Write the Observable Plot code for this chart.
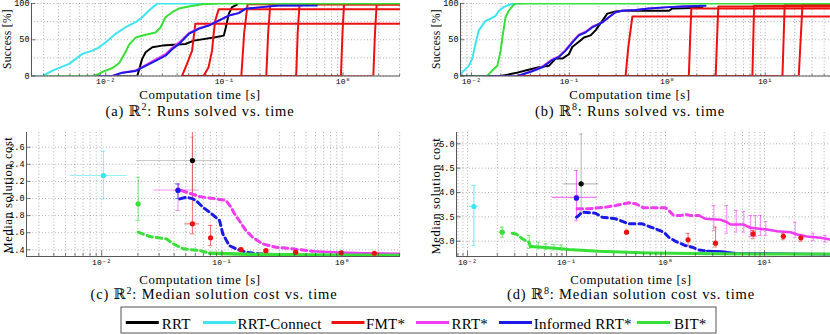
<!DOCTYPE html>
<html><head><meta charset="utf-8">
<script src="https://cdn.jsdelivr.net/npm/d3@7"></script>
<script src="https://cdn.jsdelivr.net/npm/@observablehq/plot@0.6"></script>
<style>
body{margin:0;background:#fff;}
#fig{position:relative;width:830px;height:334px;overflow:hidden;background:#fff;}
.pan{position:absolute;}
#ov text{font-family:'Liberation Serif','Times New Roman','DejaVu Serif',serif;}
</style></head><body><div id="fig"></div>
<script>
// ---------- categories & colours ----------
const ALGS = ["RRT","RRT-Connect","FMT*","RRT*","Informed RRT*","BIT*"];
const COLORS = ["#000000","#3de6ee","#ee1010","#f03cf0","#1a1ae6","#36e036"];
const col = Object.fromEntries(ALGS.map((a,i)=>[a,COLORS[i]]));

// ---------- axes ----------
const xDomainR2 = [0.00237, 3.05];
const xDomainR8 = [0.00774, 46.4];
const successDomain = [0, 100];
const costDomainR2 = [1.322, 2.772];
const costDomainR8 = [2.686, 5.232];
const xTicksR2 = [0.01, 0.1, 1];
const xTickLabelsR2 = ["10⁻²","10⁻¹","10⁰"];
const xTicksR8 = [0.01, 0.1, 1, 10];
const xTickLabelsR8 = ["10⁻²","10⁻¹","10⁰","10¹"];
const successTicks = [0, 50, 100];
const successTickLabels = ["0","50","100"];
const successGrid = [0, 25, 50, 75, 100];
const costTicksR2 = [1.4,1.6,1.8,2.0,2.2,2.4,2.6];
const costTickLabelsR2 = ["1.4","1.6","1.8","2.0","2.2","2.4","2.6"];
const costTicksR8 = [3.0,3.5,4.0,4.5,5.0];
const costTickLabelsR8 = ["3.0","3.5","4.0","4.5","5.0"];

// ---------- (a) R2 success [%] vs time [s] ----------
const a_RRT = [[0.0125,0],[0.01845,0],[0.0203,23.6],[0.0217,32.8],[0.0247,39.6],[0.0299,41.9],[0.047,44.2],[0.0553,48.8],[0.084,53.4],[0.0989,55.7],[0.103,67.3],[0.109,85.7],[0.116,95],[0.128,98.6]];
const a_RRTConnect = [[0.00237,0],[0.00294,0],[0.00356,7.5],[0.00492,16.7],[0.00637,30.5],[0.00773,35],[0.00881,39.6],[0.01,46.5],[0.0121,58],[0.0147,67.3],[0.0179,74.2],[0.0203,81],[0.0232,90.3],[0.0272,100],[0.0866,100]];
const a_FMT = [
  [[0.044,0],[0.0485,17],[0.0535,35],[0.0551,53],[0.0569,72],[3.05,72]],
  [[0.044,0],[0.0668,0],[0.0736,12],[0.0787,35],[0.0813,58],[0.0837,76],[0.0895,92],[3.05,92]],
  [[0.044,0],[0.139,0],[0.147,60],[0.157,99],[3.05,99]],
  [[0.044,0],[0.2255,0],[0.234,60],[0.244,99],[3.05,99]],
  [[0.044,0],[0.403,0],[0.415,60],[0.43,99],[3.05,99]],
  [[0.044,0],[0.96,0],[0.99,60],[1.02,99],[3.05,99]],
  [[0.044,0],[1.8,0],[1.86,60],[1.92,99],[3.05,99]]
];
const a_RRTstar = [[0.0085,0],[0.0114,0],[0.0138,4.6],[0.0179,7.5],[0.0217,15],[0.0263,23],[0.0319,30],[0.0363,39],[0.0414,46],[0.0501,59],[0.0608,66],[0.0738,70],[0.0895,76.5],[0.109,83.4],[0.132,86.7],[0.15,92.7],[0.207,95],[0.286,97.2],[0.45,97.2]];
const a_InformedRRTstar = [[0.0085,0],[0.0114,0],[0.0138,4.6],[0.0179,7],[0.0217,14],[0.0263,21],[0.0319,28],[0.0363,37],[0.0414,44],[0.0501,58],[0.0608,65],[0.0738,69.6],[0.0895,76.5],[0.109,83.4],[0.132,86.7],[0.15,92.7],[0.207,95],[0.286,97.2],[0.6,97.2]];
const a_BIT = [[0.003,0],[0.0078,0],[0.0085,2],[0.0095,6],[0.0114,11],[0.013,18],[0.0147,33],[0.0157,43],[0.0179,53],[0.0217,57],[0.0263,60],[0.029,67],[0.0319,81],[0.0363,88],[0.0414,93],[0.0501,96],[0.0649,99],[0.0895,100],[3.05,100]];

// ---------- (b) R8 success [%] vs time [s] ----------
const b_RRT = [[0.00774,0],[0.0199,0],[0.0282,4],[0.0357,7.5],[0.0489,12],[0.0618,14],[0.0724,24],[0.0848,24],[0.099,30],[0.107,40],[0.13,49],[0.141,53],[0.165,56],[0.185,63],[0.217,76],[0.244,86],[0.296,89],[0.347,90],[1.04,90],[1.12,93],[2.28,94]];
const b_RRTConnect = [[0.00774,4],[0.00806,5],[0.00942,14],[0.0102,24],[0.011,44],[0.0119,63],[0.0139,76],[0.0157,79],[0.0177,83],[0.0191,90],[0.0214,95],[0.0251,99],[0.0282,100],[0.032,100]];
const b_FMT = [
  [[0.03,0],[0.375,0],[0.40,40],[0.44,82],[46.4,82]],
  [[0.03,0],[1.66,0],[1.71,50],[1.76,93],[46.4,93]],
  [[0.03,0],[3.12,0],[3.22,50],[3.32,96],[46.4,96]],
  [[0.03,0],[7.4,0],[7.55,50],[7.7,97],[46.4,97]],
  [[0.03,0],[15,0],[15.4,50],[15.8,97.5],[46.4,97.5]],
  [[0.03,0],[22,0],[23,50],[24,98],[46.4,98]]
];
const b_RRTstar = [[0.00774,0],[0.029,0],[0.033,2],[0.0418,7],[0.053,13],[0.067,23],[0.078,27],[0.0916,36],[0.107,47],[0.125,57],[0.146,61],[0.171,68],[0.217,74],[0.253,81],[0.296,88],[0.347,90],[0.475,91],[0.65,93],[1.04,95],[1.42,96],[2.3,97]];
const b_InformedRRTstar = [[0.00774,0],[0.029,0],[0.033,2],[0.0418,6.5],[0.053,12],[0.067,22],[0.078,26],[0.0916,35],[0.107,46],[0.125,56],[0.146,60],[0.171,67],[0.217,74],[0.253,81],[0.296,88],[0.347,90],[0.475,91],[0.65,93],[1.04,95],[1.42,96],[2.46,97]];
const b_BIT = [[0.00774,0],[0.0145,0],[0.0163,7.5],[0.0184,14],[0.0199,35],[0.021,58],[0.0223,81],[0.0241,90],[0.0265,97],[0.0282,100],[46.4,100]];

// ---------- (c) R2 median cost vs time ----------
const c_RRTstar = [[0.046,2.094],[0.0538,2.062],[0.0652,2.023],[0.0764,2.008],[0.0895,1.996],[0.108,1.977],[0.119,1.898],[0.127,1.821],[0.139,1.743],[0.158,1.626],[0.18,1.547],[0.217,1.47],[0.28,1.43],[0.385,1.412],[0.563,1.384],[0.824,1.372],[1.55,1.36],[3.05,1.353]];
const c_InformedRRTstar = [[0.0446,1.996],[0.0506,2.015],[0.0574,1.996],[0.063,1.957],[0.0694,1.898],[0.0788,1.84],[0.0954,1.743],[0.0985,1.664],[0.1016,1.587],[0.115,1.45],[0.131,1.412],[0.158,1.372],[0.204,1.353],[0.263,1.345],[0.5,1.338],[3.05,1.333]];
const c_BIT = [[0.0201,1.606],[0.0252,1.555],[0.0346,1.528],[0.0393,1.47],[0.0475,1.412],[0.0652,1.392],[0.079,1.36],[0.2,1.345],[1.0,1.338],[3.05,1.333]];
const c_firstSolution = [
  {alg:"RRT-Connect", t:0.01035, v:2.269, tLo:0.0055, tHi:0.0162, vLo:1.996, vHi:2.553},
  {alg:"BIT*", t:0.0201, v:1.938, tLo:0.0192, tHi:0.021, vLo:1.743, vHi:2.249},
  {alg:"RRT", t:0.0568, v:2.444, tLo:0.0195, tHi:0.098, vLo:2.0, vHi:2.717},
  {alg:"RRT*", t:0.0431, v:2.10, tLo:0.0272, tHi:0.0645, vLo:1.86, vHi:2.17},
  {alg:"Informed RRT*", t:0.0431, v:2.095, tLo:0.041, tHi:0.0455, vLo:2.0, vHi:2.17}
];
const c_FMT = [
  {t:0.0568, v:1.704, tLo:0.049, tHi:0.065, vLo:1.587, vHi:2.9},
  {t:0.0804, v:1.540, tLo:0.078, tHi:0.083, vLo:1.45, vHi:1.684},
  {t:0.144, v:1.403, tLo:0.14, tHi:0.148, vLo:1.39, vHi:1.42},
  {t:0.232, v:1.39, tLo:0.228, tHi:0.236, vLo:1.38, vHi:1.40},
  {t:0.41, v:1.372, tLo:0.41, tHi:0.41, vLo:1.365, vHi:1.38},
  {t:0.98, v:1.365, tLo:0.98, tHi:0.98, vLo:1.36, vHi:1.37},
  {t:1.85, v:1.36, tLo:1.85, tHi:1.85, vLo:1.355, vHi:1.365}
];

// ---------- (d) R8 median cost vs time ----------
const d_RRTstar = [[0.128,3.665],[0.168,3.665],[0.25,3.70],[0.313,3.733],[0.426,3.788],[0.5,3.77],[0.6,3.686],[1.0,3.686],[1.08,3.63],[1.21,3.528],[1.45,3.53],[1.59,3.55],[1.79,3.528],[2.18,3.528],[2.53,3.46],[3.6,3.44],[4.2,3.39],[4.54,3.343],[6.17,3.343],[7.24,3.275],[10.6,3.24],[13.4,3.205],[18.3,3.185],[21.4,3.138],[26.9,3.097],[36.8,3.07],[46.4,3.035]];
const d_InformedRRTstar = [[0.126,3.493],[0.133,3.528],[0.144,3.596],[0.196,3.575],[0.229,3.493],[0.313,3.46],[0.426,3.357],[0.58,3.357],[0.71,3.29],[0.825,3.24],[0.96,3.185],[1.08,3.08],[1.26,3.0],[1.59,2.91],[1.86,2.877],[2.17,2.82],[2.64,2.80],[3.7,2.79],[5.1,2.755],[46.4,2.73]];
const d_BIT = [[0.0283,3.164],[0.031,3.15],[0.0357,3.05],[0.0417,2.98],[0.0433,2.89],[0.0568,2.877],[0.0774,2.856],[0.105,2.83],[0.212,2.795],[0.68,2.76],[3.2,2.74],[46.4,2.735]];
const d_firstSolution = [
  {alg:"RRT-Connect", t:0.0116, v:3.713, tLo:0.0105, tHi:0.0128, vLo:2.91, vHi:4.144},
  {alg:"BIT*", t:0.0224, v:3.185, tLo:0.0208, tHi:0.0242, vLo:3.08, vHi:3.29},
  {alg:"RRT", t:0.1406, v:4.178, tLo:0.094, tHi:0.212, vLo:3.6, vHi:5.2},
  {alg:"RRT*", t:0.126, v:3.9, tLo:0.0718, tHi:0.204, vLo:3.42, vHi:4.45},
  {alg:"Informed RRT*", t:0.126, v:3.883, tLo:0.121, tHi:0.131, vLo:3.86, vHi:3.91}
];
const d_FMT = [
  {t:0.404, v:3.185, tLo:0.395, tHi:0.413, vLo:3.17, vHi:3.2},
  {t:1.69, v:3.03, tLo:1.65, tHi:1.73, vLo:2.91, vHi:3.16},
  {t:3.2, v:2.96, tLo:3.13, tHi:3.27, vLo:2.88, vHi:3.29},
  {t:7.67, v:3.15, tLo:7.5, tHi:7.85, vLo:3.05, vHi:3.22},
  {t:15.5, v:3.10, tLo:15.2, tHi:15.8, vLo:3.03, vHi:3.164},
  {t:23.3, v:3.07, tLo:22.8, tHi:23.8, vLo:3.0, vHi:3.14}
];
const d_RRTstarBars = [[3.08,3.22,3.733],[4.15,3.164,3.733],[5.18,3.185,3.63],[6.17,3.185,3.61],[7.24,3.097,3.528],[8.1,3.097,3.528],[9.1,3.117,3.528],[10.3,3.117,3.405],[20.4,3.08,3.39],[31,3.014,3.164],[41,2.98,3.117]];
const d_BITBars = [[0.042,2.85,3.12],[0.052,2.84,2.98],[0.062,2.83,2.95],[0.075,2.82,2.93],[0.088,2.82,2.92]];

// ---------- helpers ----------
const P = arr => arr.map(([t,v]) => ({t, v}));
function logTicks([lo, hi]) {
  const out = [];
  for (let e = Math.floor(Math.log10(lo)); e <= Math.ceil(Math.log10(hi)); e++)
    for (let k = 1; k <= 9; k++) { const v = +(k*Math.pow(10,e)).toPrecision(6); if (v >= lo && v <= hi) out.push(v); }
  return out;
}
const isMajor = v => Math.abs(Math.log10(v) - Math.round(Math.log10(v))) < 1e-9;
const GRID = {stroke:"#8a8a8a", strokeDasharray:"1,2.2", strokeWidth:0.8, strokeOpacity:0.85};
const SERIF = "'Liberation Serif','Times New Roman','DejaVu Serif',serif";
const MONO = "'Liberation Mono','DejaVu Sans Mono',monospace";

function panel({xDomain, yDomain, xTicks, xLabels, yTicks, yLabels, yGrid, width, height, margins, marks}) {
  const xFmt = new Map(xTicks.map((v,i)=>[v, xLabels[i]]));
  const yFmt = new Map(yTicks.map((v,i)=>[v, yLabels[i]]));
  const minor = logTicks(xDomain);
  const yLo = yDomain[0], yH = yDomain[1]-yDomain[0];
  const xr = xDomain[1]/xDomain[0];
  return Plot.plot({
    width, height, ...margins,
    x: {type:"log", domain: xDomain},
    y: {domain: yDomain},
    style: {fontFamily:SERIF, fontSize:"9px", overflow:"visible", background:"transparent"},
    marks: [
      Plot.ruleX(minor, GRID),
      Plot.ruleY(yGrid, GRID),
      ...marks,
      Plot.ruleX([xDomain[0]], {stroke:"#444", strokeWidth:0.9}),
      Plot.ruleY([yDomain[0]], {stroke:"#444", strokeWidth:0.9}),
      Plot.ruleX(minor, {y1: yLo, y2: d => yLo + yH*(isMajor(d) ? 0.045 : 0.025), stroke:"#444", strokeWidth:0.7}),
      Plot.ruleY(yTicks, {x1: xDomain[0], x2: xDomain[0]*Math.pow(xr, 0.012), stroke:"#444", strokeWidth:0.7}),
      Plot.axisX({ticks: xTicks, tickSize:0, tickPadding:2.5, tickFormat: d => xFmt.get(d), fontFamily:MONO, fontSize:8, label:null}),
      Plot.axisY({ticks: yTicks, tickSize:0, tickPadding:2, tickFormat: d => yFmt.get(d), fontFamily:MONO, fontSize:8.5, label:null})
    ]
  });
}
const line = (data, color, o={}) => Plot.line(P(data), {x:"t", y:"v", stroke:color, strokeWidth:2, clip:true, ...o});
const runs = (list, color) => Plot.line(list.flatMap((r,i)=>r.map(([t,v])=>({t,v,run:i}))), {x:"t", y:"v", z:"run", stroke:color, strokeWidth:2, clip:true});
const DASH = {strokeWidth:3, strokeDasharray:"5.5,4"};
function dashSolid(data, cut, color, solidWidth) {
  return [
    line(data.filter(d=>d[0]<=cut), color, DASH),
    line(data.filter(d=>d[0]>=cut), color, {strokeWidth: solidWidth})
  ];
}
function errorBars(data, colorOf, opacity, cap) {
  const c = d => colorOf(d);
  const o = d => d.alg === "RRT" ? opacity*0.7 : opacity;
  return [
    Plot.ruleY(data, {y:"v", x1:"tLo", x2:"tHi", stroke:c, strokeOpacity:o, strokeWidth:1.1, clip:true}),
    Plot.ruleX(data, {x:"t", y1:"vLo", y2:"vHi", stroke:c, strokeOpacity:o, strokeWidth:1.1, clip:true}),
    Plot.ruleY(data, {y:"vHi", x1:d=>d.t/cap, x2:d=>d.t*cap, stroke:c, strokeOpacity:o, strokeWidth:1, clip:true}),
    Plot.ruleY(data, {y:"vLo", x1:d=>d.t/cap, x2:d=>d.t*cap, stroke:c, strokeOpacity:o, strokeWidth:1, clip:true})
  ];
}
const barColor = d => d.alg === "RRT" ? "#777" : col[d.alg];
const dots = (data, colorOf) => Plot.dot(data, {x:"t", y:"v", r:2.6, fill:colorOf, stroke:null, clip:true});

const fig = document.getElementById("fig");
function place(svg, left, top) { svg.classList.add("pan"); svg.style.left = left+"px"; svg.style.top = top+"px"; fig.appendChild(svg); }

// (a)
place(panel({
  xDomain:xDomainR2, yDomain:successDomain, xTicks:xTicksR2, xLabels:xTickLabelsR2,
  yTicks:successTicks, yLabels:successTickLabels, yGrid:successGrid,
  width:415, height:92, margins:{marginLeft:31, marginRight:15, marginTop:3, marginBottom:16.5},
  marks:[
    line(a_RRT, col["RRT"]),
    line(a_RRTConnect, col["RRT-Connect"]),
    runs(a_FMT, col["FMT*"]),
    line(a_RRTstar, col["RRT*"]),
    line(a_InformedRRTstar, col["Informed RRT*"]),
    line(a_BIT, col["BIT*"])
  ]
}), 0, 0);

// (b)
place(panel({
  xDomain:xDomainR8, yDomain:successDomain, xTicks:xTicksR8, xLabels:xTickLabelsR8,
  yTicks:successTicks, yLabels:successTickLabels, yGrid:successGrid,
  width:415, height:92, margins:{marginLeft:45, marginRight:0, marginTop:3, marginBottom:16.5},
  marks:[
    line(b_RRT, col["RRT"]),
    line(b_RRTConnect, col["RRT-Connect"]),
    runs(b_FMT, col["FMT*"]),
    line(b_RRTstar, col["RRT*"]),
    line(b_InformedRRTstar, col["Informed RRT*"]),
    line(b_BIT, col["BIT*"])
  ]
}), 415, 0);

// (c)
const cFMT = c_FMT.map(d=>({...d, alg:"FMT*"}));
place(panel({
  xDomain:xDomainR2, yDomain:costDomainR2, xTicks:xTicksR2, xLabels:xTickLabelsR2,
  yTicks:costTicksR2, yLabels:costTickLabelsR2, yGrid:costTicksR2,
  width:415, height:150, margins:{marginLeft:26, marginRight:15, marginTop:12, marginBottom:14},
  marks:[
    ...errorBars(c_firstSolution, barColor, 0.55, 1.045),
    ...errorBars(cFMT, barColor, 0.55, 1.045),
    ...dashSolid(c_RRTstar, 0.563, col["RRT*"], 2.5),
    ...dashSolid(c_InformedRRTstar, 0.263, col["Informed RRT*"], 2.5),
    ...dashSolid(c_BIT, 0.079, col["BIT*"], 3.5),
    dots(cFMT, d=>col[d.alg]),
    dots(c_firstSolution, d=>col[d.alg])
  ]
}), 0, 120);

// (d)
const dFMT = d_FMT.map(d=>({...d, alg:"FMT*"}));
const dRRTsBars = d_RRTstarBars.map(([t,lo,hi])=>({alg:"RRT*", t, v:(lo+hi)/2, tLo:t, tHi:t, vLo:lo, vHi:hi}));
const dBITBars = d_BITBars.map(([t,lo,hi])=>({alg:"BIT*", t, v:(lo+hi)/2, tLo:t, tHi:t, vLo:lo, vHi:hi}));
place(panel({
  xDomain:xDomainR8, yDomain:costDomainR8, xTicks:xTicksR8, xLabels:xTickLabelsR8,
  yTicks:costTicksR8, yLabels:costTickLabelsR8, yGrid:costTicksR8,
  width:415, height:150, margins:{marginLeft:41, marginRight:0, marginTop:12, marginBottom:14},
  marks:[
    ...errorBars(d_firstSolution, barColor, 0.7, 1.045),
    ...errorBars(dRRTsBars, barColor, 0.55, 1.045),
    ...errorBars(dBITBars, barColor, 0.6, 1.045),
    ...errorBars(dFMT, barColor, 0.55, 1.045),
    ...dashSolid(d_RRTstar, 2.18, col["RRT*"], 2.5),
    ...dashSolid(d_InformedRRTstar, 2.64, col["Informed RRT*"], 2.5),
    ...dashSolid(d_BIT, 0.0433, col["BIT*"], 3),
    dots(dFMT, d=>col[d.alg]),
    dots(d_firstSolution, d=>col[d.alg])
  ]
}), 415, 120);

// ---------- text overlay & legend ----------
const ov = d3.select(fig).append("svg").attr("id","ov").attr("width",830).attr("height",334)
  .style("position","absolute").style("left",0).style("top",0).attr("fill","#000");
const xLabelText = "Computation time [s]";
[[200,98.8],[630,98.8],[200,283.5],[631,283.5]].forEach(([x,y]) =>
  ov.append("text").attr("x",x).attr("y",y).attr("text-anchor","middle").attr("font-size",12.8).attr("letter-spacing",0.6).text(xLabelText));
function vlabel(x, y, text, size, ls) {
  ov.append("text").attr("transform",`translate(${x},${y}) rotate(-90)`).attr("text-anchor","middle")
    .attr("font-size",size).attr("letter-spacing",ls).text(text);
}
vlabel(10.5, 39, "Success [%]", 11.5, 0.3);
vlabel(440, 39, "Success [%]", 11.5, 0.3);
vlabel(11.5, 195, "Median solution cost", 12.5, 0.6);
vlabel(440, 196, "Median solution cost", 12.5, 0.6);
const captions = [
  [200,115.8,"(a) ℝ","2",": Runs solved vs. time"],
  [630,115.8,"(b) ℝ","8",": Runs solved vs. time"],
  [214,299,"(c) ℝ","2",": Median solution cost vs. time"],
  [631,299,"(d) ℝ","8",": Median solution cost vs. time"]
];
captions.forEach(([x,y,a,s,b]) => {
  const t = ov.append("text").attr("x",x).attr("y",y).attr("text-anchor","middle").attr("font-size",14.5).attr("letter-spacing",0.85);
  t.append("tspan").text(a);
  t.append("tspan").attr("dy",-5.5).attr("font-size",10).text(s);
  t.append("tspan").attr("dy",5.5).text(b);
});
ov.append("rect").attr("x",121).attr("y",307).attr("width",595).attr("height",26).attr("fill","#fff").attr("stroke","#555").attr("stroke-width",1);
const legendX = [[125.8,161.7],[203,237.6],[331.5,366],[416,451.5],[499,533.8],[637,674]];
ALGS.forEach((a,i) => {
  const [lx, tx] = legendX[i];
  ov.append("line").attr("x1",lx).attr("x2",lx+33).attr("y1",322.5).attr("y2",322.5).attr("stroke",COLORS[i]).attr("stroke-width",3);
  ov.append("text").attr("x",tx).attr("y",328.5).attr("font-size",15).attr("letter-spacing",0.2).text(a);
});
</script></body></html>
